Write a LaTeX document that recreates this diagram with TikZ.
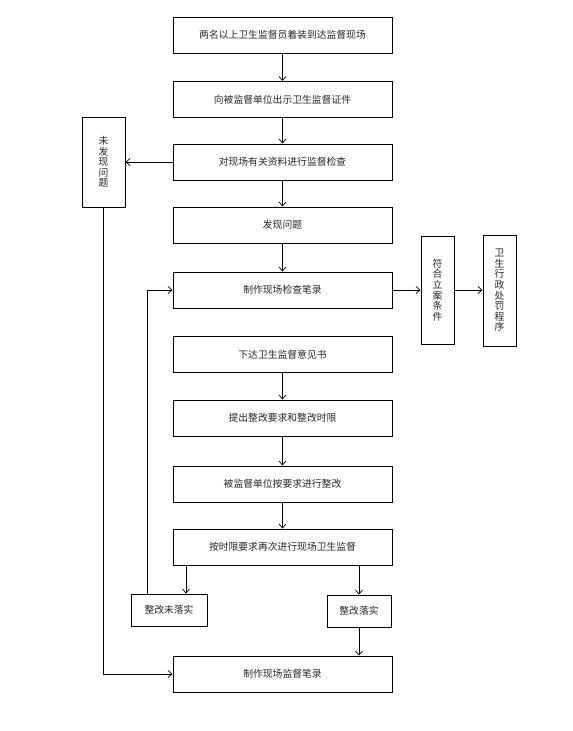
\documentclass[tikz,border=0pt]{standalone}
\usepackage{fontspec}
\setmainfont{Noto Sans CJK SC}
\usetikzlibrary{arrows.meta}
\begin{document}
\begin{tikzpicture}[x=1pt,y=1pt,
  box/.style={draw=black, line width=1pt, inner sep=0pt, font=\fontsize{9.8}{10.6}\selectfont, text=black!85},
  mainbox/.style={box, minimum width=219pt, minimum height=36pt},
  vbox/.style={box, align=center},
  arr/.style={-{Straight Barb[length=4pt,width=7pt]}, line width=0.7pt}
]
\useasboundingbox (0,0) rectangle (573,-731);
\node[mainbox] (b1) at (282.5,-35) {两名以上卫生监督员着装到达监督现场};
\node[mainbox] (b2) at (282.5,-99.5) {向被监督单位出示卫生监督证件};
\node[mainbox] (b3) at (282.5,-162) {对现场有关资料进行监督检查};
\node[mainbox] (b4) at (282.5,-225) {发现问题};
\node[mainbox] (b5) at (282.5,-290) {制作现场检查笔录};
\node[mainbox] (b6) at (282.5,-354.5) {下达卫生监督意见书};
\node[mainbox] (b7) at (282.5,-418) {提出整改要求和整改时限};
\node[mainbox] (b8) at (282.5,-484) {被监督单位按要求进行整改};
\node[mainbox] (b9) at (282.5,-547) {按时限要求再次进行现场卫生监督};
\node[mainbox] (b10) at (282.5,-674) {制作现场监督笔录};
\node[vbox, minimum width=43pt, minimum height=90pt] (nf) at (103.5,-162) {未\\发\\现\\问\\题};
\node[vbox, minimum width=33pt, minimum height=108pt] (fh) at (437.5,-290) {符\\合\\立\\案\\条\\件};
\node[vbox, minimum width=33pt, minimum height=111pt] (cf) at (499.5,-290.5) {卫\\生\\行\\政\\处\\罚\\程\\序};
\node[box, minimum width=76pt, minimum height=32pt] (wl) at (169,-610) {整改未落实};
\node[box, minimum width=64pt, minimum height=32pt] (ll) at (359,-611) {整改落实};
\coordinate (xa) at (186,0);
\coordinate (xl) at (147,0);
\draw[arr] (b1) -- (b2);
\draw[arr] (b2) -- (b3);
\draw[arr] (b3) -- (b4);
\draw[arr] (b4) -- (b5);
\draw[arr] (b6) -- (b7);
\draw[arr] (b7) -- (b8);
\draw[arr] (b8) -- (b9);
\draw[arr] (b3.west) -- (nf.east |- b3.west);
\draw[arr] (b5.east) -- (fh.west |- b5.east);
\draw[arr] (fh.east) -- (cf.west |- fh.east);
\draw[arr] (xa |- b9.south) -- (xa |- wl.north);
\draw[arr] (ll.north |- b9.south) -- (ll.north);
\draw[arr] (ll.south) -- (ll.south |- b10.north);
\draw[arr] (xl |- wl.north) |- (b5.west);
\draw[arr] (nf.south) |- (b10.west);
\end{tikzpicture}
\end{document}
